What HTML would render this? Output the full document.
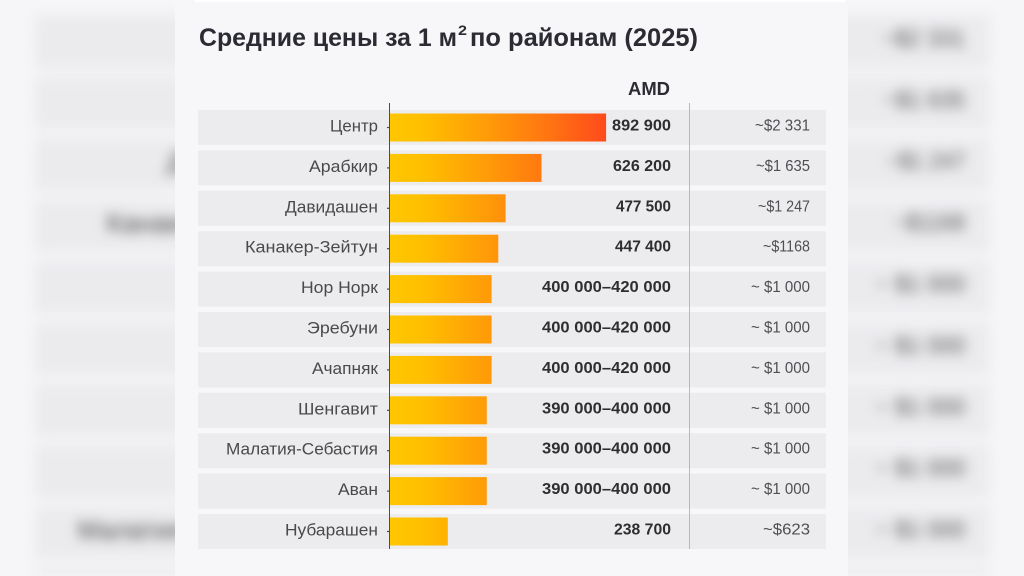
<!DOCTYPE html>
<html>
<head>
<meta charset="utf-8">
<style>
html,body{margin:0;padding:0;width:1024px;height:576px;overflow:hidden;background:#f6f6f8;}
#root{position:relative;width:1024px;height:576px;overflow:hidden;background:#f6f6f8;}
#bgwrap{position:absolute;left:0;top:0;width:1024px;height:576px;overflow:hidden;}
#bg{position:absolute;left:0;top:0;display:block;filter:blur(6px);}
#panel{position:absolute;left:175px;top:0;width:673px;height:576px;background:#f7f7f9;}
#topline{position:absolute;left:195px;top:0;width:650px;height:2px;background:#ffffff;}
#fg{position:absolute;left:0;top:0;display:block;}
text{font-family:"Liberation Sans","Noto Sans CJK SC",sans-serif;}
</style>
</head>
<body>
<div id="root">
<div id="bgwrap">
<svg id="bg" width="1024" height="576" viewBox="0 0 1024 576" xmlns="http://www.w3.org/2000/svg">
  <g fill="#ebebee">
    <rect x="35" y="15.2" width="955" height="53.2"/>
    <rect x="35" y="76.6" width="955" height="53.2"/>
    <rect x="35" y="138" width="955" height="53.2"/>
    <rect x="35" y="199.4" width="955" height="53.2"/>
    <rect x="35" y="260.8" width="955" height="53.2"/>
    <rect x="35" y="322.2" width="955" height="53.2"/>
    <rect x="35" y="383.6" width="955" height="53.2"/>
    <rect x="35" y="445.1" width="955" height="53.2"/>
    <rect x="35" y="506.5" width="955" height="53.2"/>
    <rect x="35" y="567.9" width="955" height="8"/>
  </g>
  <g transform="translate(-266,-152) scale(1.52)">
    <g fill="#4a4a4a" font-size="17" text-anchor="end">
      <text x="378" y="212.3" textLength="93" lengthAdjust="spacingAndGlyphs">Давидашен</text>
      <text x="378" y="252.7" textLength="133" lengthAdjust="spacingAndGlyphs">Канакер-Зейтун</text>
      <text x="378" y="454.7" textLength="152" lengthAdjust="spacingAndGlyphs">Малатия-Себастия</text>
    </g>
    <g fill="#555" font-size="16" text-anchor="end">
      <text x="810" y="130.5" textLength="55" lengthAdjust="spacingAndGlyphs">~$2 331</text>
      <text x="810" y="170.9" textLength="54" lengthAdjust="spacingAndGlyphs">~$1 635</text>
      <text x="810" y="211.3" textLength="52" lengthAdjust="spacingAndGlyphs">~$1 247</text>
      <text x="810" y="251.7" textLength="47" lengthAdjust="spacingAndGlyphs">~$1168</text>
      <text x="810" y="292.1" textLength="59" lengthAdjust="spacingAndGlyphs">~ $1 000</text>
      <text x="810" y="332.5" textLength="59" lengthAdjust="spacingAndGlyphs">~ $1 000</text>
      <text x="810" y="372.9" textLength="59" lengthAdjust="spacingAndGlyphs">~ $1 000</text>
      <text x="810" y="413.3" textLength="59" lengthAdjust="spacingAndGlyphs">~ $1 000</text>
      <text x="810" y="453.7" textLength="59" lengthAdjust="spacingAndGlyphs">~ $1 000</text>
    </g>
  </g>
</svg>
</div>

<div id="panel"></div>
<div id="topline"></div>

<svg id="fg" width="1024" height="576" viewBox="0 0 1024 576" xmlns="http://www.w3.org/2000/svg">
  <defs>
    <linearGradient id="gr" gradientUnits="userSpaceOnUse" x1="390" y1="0" x2="606" y2="0">
      <stop offset="0" stop-color="#ffc600"/>
      <stop offset="0.15" stop-color="#ffbf00"/>
      <stop offset="0.45" stop-color="#ff9b08"/>
      <stop offset="0.75" stop-color="#ff7212"/>
      <stop offset="1" stop-color="#ff4a1c"/>
    </linearGradient>
  </defs>

  <g fill="#2b2b33" font-weight="bold">
    <text x="199" y="46" font-size="25" textLength="258" lengthAdjust="spacingAndGlyphs">Средние цены за 1 м</text>
    <text x="458" y="35" font-size="14" textLength="9" lengthAdjust="spacingAndGlyphs">2</text>
    <text x="470" y="46" font-size="25" textLength="228" lengthAdjust="spacingAndGlyphs">по районам (2025)</text>
    <text x="670" y="95" font-size="18" text-anchor="end" textLength="42" lengthAdjust="spacingAndGlyphs">AMD</text>
  </g>

  <g fill="#ececef">
    <rect x="198" y="110" width="628" height="35"/>
    <rect x="198" y="150.4" width="628" height="35"/>
    <rect x="198" y="190.8" width="628" height="35"/>
    <rect x="198" y="231.2" width="628" height="35"/>
    <rect x="198" y="271.6" width="628" height="35"/>
    <rect x="198" y="312" width="628" height="35"/>
    <rect x="198" y="352.4" width="628" height="35"/>
    <rect x="198" y="392.8" width="628" height="35"/>
    <rect x="198" y="433.2" width="628" height="35"/>
    <rect x="198" y="473.6" width="628" height="35"/>
    <rect x="198" y="514" width="628" height="35"/>
  </g>

  <g fill="url(#gr)">
    <rect x="390" y="113.5" width="216.1" height="28"/>
    <rect x="390" y="153.9" width="151.5" height="28"/>
    <rect x="390" y="194.3" width="115.6" height="28"/>
    <rect x="390" y="234.7" width="108.3" height="28"/>
    <rect x="390" y="275.1" width="101.6" height="28"/>
    <rect x="390" y="315.5" width="101.6" height="28"/>
    <rect x="390" y="355.9" width="101.6" height="28"/>
    <rect x="390" y="396.3" width="96.8" height="28"/>
    <rect x="390" y="436.7" width="96.8" height="28"/>
    <rect x="390" y="477.1" width="96.8" height="28"/>
    <rect x="390" y="517.5" width="57.8" height="28"/>
  </g>

  <line x1="389.5" y1="103" x2="389.5" y2="549" stroke="#4d4d4d" stroke-width="1"/>
  <line x1="689.5" y1="103" x2="689.5" y2="549" stroke="#b8b8bb" stroke-width="1"/>
  <g stroke="#4d4d4d" stroke-width="1.2">
    <line x1="387" y1="127.5" x2="389" y2="127.5"/>
    <line x1="387" y1="167.9" x2="389" y2="167.9"/>
    <line x1="387" y1="208.3" x2="389" y2="208.3"/>
    <line x1="387" y1="248.7" x2="389" y2="248.7"/>
    <line x1="387" y1="289.1" x2="389" y2="289.1"/>
    <line x1="387" y1="329.5" x2="389" y2="329.5"/>
    <line x1="387" y1="369.9" x2="389" y2="369.9"/>
    <line x1="387" y1="410.3" x2="389" y2="410.3"/>
    <line x1="387" y1="450.7" x2="389" y2="450.7"/>
    <line x1="387" y1="491.1" x2="389" y2="491.1"/>
    <line x1="387" y1="531.5" x2="389" y2="531.5"/>
  </g>

  <g fill="#4a4a4a" font-size="17" text-anchor="end">
    <text x="378" y="131.5" textLength="48" lengthAdjust="spacingAndGlyphs">Центр</text>
    <text x="378" y="171.9" textLength="69" lengthAdjust="spacingAndGlyphs">Арабкир</text>
    <text x="378" y="212.3" textLength="93" lengthAdjust="spacingAndGlyphs">Давидашен</text>
    <text x="378" y="252.7" textLength="133" lengthAdjust="spacingAndGlyphs">Канакер-Зейтун</text>
    <text x="378" y="293.1" textLength="77" lengthAdjust="spacingAndGlyphs">Нор Норк</text>
    <text x="378" y="333.5" textLength="71" lengthAdjust="spacingAndGlyphs">Эребуни</text>
    <text x="378" y="373.9" textLength="66" lengthAdjust="spacingAndGlyphs">Ачапняк</text>
    <text x="378" y="414.3" textLength="80" lengthAdjust="spacingAndGlyphs">Шенгавит</text>
    <text x="378" y="454.7" textLength="152" lengthAdjust="spacingAndGlyphs">Малатия-Себастия</text>
    <text x="378" y="495.1" textLength="40" lengthAdjust="spacingAndGlyphs">Аван</text>
    <text x="378" y="535.5" textLength="93" lengthAdjust="spacingAndGlyphs">Нубарашен</text>
  </g>

  <g fill="#2e2e2e" font-size="16" font-weight="bold" text-anchor="end">
    <text x="671" y="130.5" textLength="59" lengthAdjust="spacingAndGlyphs">892 900</text>
    <text x="671" y="170.9" textLength="58" lengthAdjust="spacingAndGlyphs">626 200</text>
    <text x="671" y="211.3" textLength="55" lengthAdjust="spacingAndGlyphs">477 500</text>
    <text x="671" y="251.7" textLength="56" lengthAdjust="spacingAndGlyphs">447 400</text>
    <text x="671" y="292.1" textLength="129" lengthAdjust="spacingAndGlyphs">400 000–420 000</text>
    <text x="671" y="332.5" textLength="129" lengthAdjust="spacingAndGlyphs">400 000–420 000</text>
    <text x="671" y="372.9" textLength="129" lengthAdjust="spacingAndGlyphs">400 000–420 000</text>
    <text x="671" y="413.3" textLength="129" lengthAdjust="spacingAndGlyphs">390 000–400 000</text>
    <text x="671" y="453.7" textLength="129" lengthAdjust="spacingAndGlyphs">390 000–400 000</text>
    <text x="671" y="494.1" textLength="129" lengthAdjust="spacingAndGlyphs">390 000–400 000</text>
    <text x="671" y="534.5" textLength="57" lengthAdjust="spacingAndGlyphs">238 700</text>
  </g>

  <g fill="#4f4f53" font-size="16" text-anchor="end">
    <text x="810" y="130.5" textLength="55" lengthAdjust="spacingAndGlyphs">~$2 331</text>
    <text x="810" y="170.9" textLength="54" lengthAdjust="spacingAndGlyphs">~$1 635</text>
    <text x="810" y="211.3" textLength="52" lengthAdjust="spacingAndGlyphs">~$1 247</text>
    <text x="810" y="251.7" textLength="47" lengthAdjust="spacingAndGlyphs">~$1168</text>
    <text x="810" y="292.1" textLength="59" lengthAdjust="spacingAndGlyphs">~ $1 000</text>
    <text x="810" y="332.5" textLength="59" lengthAdjust="spacingAndGlyphs">~ $1 000</text>
    <text x="810" y="372.9" textLength="59" lengthAdjust="spacingAndGlyphs">~ $1 000</text>
    <text x="810" y="413.3" textLength="59" lengthAdjust="spacingAndGlyphs">~ $1 000</text>
    <text x="810" y="453.7" textLength="59" lengthAdjust="spacingAndGlyphs">~ $1 000</text>
    <text x="810" y="494.1" textLength="59" lengthAdjust="spacingAndGlyphs">~ $1 000</text>
    <text x="810" y="534.5" textLength="47" lengthAdjust="spacingAndGlyphs">~$623</text>
  </g>
</svg>
</div>
</body>
</html>
